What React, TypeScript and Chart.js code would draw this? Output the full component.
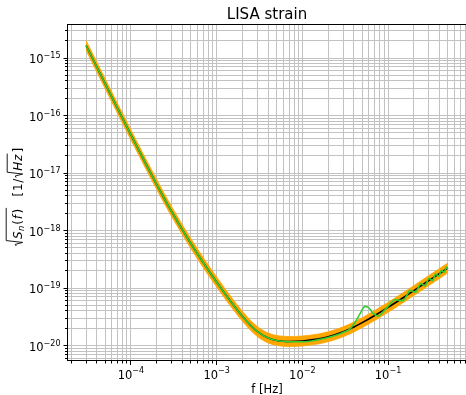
import React, { useEffect, useRef } from 'react';
import { Chart, registerables } from 'chart.js';

Chart.register(...registerables);

const W = 466;
const H = 395;

// ---- data ----
const freqs = [3e-5, 5e-5, 1e-4, 2e-4, 3e-4, 5e-4, 7e-4, 1e-3, 1.5e-3, 2e-3, 2.5e-3, 3e-3, 4e-3, 5e-3, 6e-3, 7e-3, 1e-2, 1.5e-2, 2e-2, 3e-2, 4e-2, 5e-2, 7e-2, 0.1, 0.15, 0.2, 0.3, 0.4, 0.5];
const strainBlack = [1.65e-15, 3.58e-16, 4.6e-17, 6.3e-18, 2.11e-18, 5.95e-19, 2.76e-19, 1.277e-19, 5.57e-20, 3.235e-20, 2.232e-20, 1.744e-20, 1.352e-20, 1.229e-20, 1.189e-20, 1.178e-20, 1.201e-20, 1.296e-20, 1.422e-20, 1.737e-20, 2.105e-20, 2.505e-20, 3.334e-20, 4.614e-20, 6.799e-20, 9.027e-20, 1.355e-19, 1.795e-19, 2.242e-19];
const bandUpper = [2.01e-15, 4.37e-16, 5.61e-17, 7.69e-18, 2.57e-18, 7.26e-19, 3.37e-19, 1.558e-19, 6.8e-20, 3.95e-20, 2.72e-20, 2.13e-20, 1.65e-20, 1.5e-20, 1.451e-20, 1.437e-20, 1.465e-20, 1.581e-20, 1.735e-20, 2.12e-20, 2.57e-20, 3.06e-20, 4.07e-20, 5.63e-20, 8.29e-20, 1.101e-19, 1.653e-19, 2.19e-19, 2.735e-19];
const bandLower = [1.353e-15, 2.94e-16, 3.77e-17, 5.17e-18, 1.73e-18, 4.88e-19, 2.26e-19, 1.047e-19, 4.57e-20, 2.65e-20, 1.83e-20, 1.43e-20, 1.109e-20, 1.008e-20, 9.75e-21, 9.66e-21, 9.85e-21, 1.063e-20, 1.166e-20, 1.424e-20, 1.726e-20, 2.054e-20, 2.73e-20, 3.78e-20, 5.58e-20, 7.4e-20, 1.111e-19, 1.472e-19, 1.838e-19];

const greenFreqs = [3e-5, 5e-5, 1e-4, 2e-4, 3e-4, 5e-4, 7e-4, 1e-3, 1.5e-3, 2e-3, 2.5e-3, 3e-3, 4e-3, 5e-3, 6e-3, 7e-3, 1e-2, 1.5e-2, 2e-2, 3e-2, 0.036, 0.042, 0.047, 0.054, 0.06, 0.067, 0.077, 0.088, 0.1, 0.11, 0.12, 0.135, 0.15, 0.165, 0.18, 0.195, 0.21, 0.225, 0.24, 0.255, 0.27, 0.285, 0.3, 0.315, 0.33, 0.345, 0.36, 0.375, 0.39, 0.405, 0.42, 0.435, 0.45, 0.465, 0.48, 0.5];
const greenStrain = [1.65e-15, 3.58e-16, 4.6e-17, 6.3e-18, 2.11e-18, 5.95e-19, 2.76e-19, 1.277e-19, 5.57e-20, 3.235e-20, 2.232e-20, 1.744e-20, 1.35e-20, 1.225e-20, 1.183e-20, 1.165e-20, 1.165e-20, 1.255e-20, 1.38e-20, 1.69e-20, 1.95e-20, 2.66e-20, 3.55e-20, 4.8e-20, 4.5e-20, 3.62e-20, 3.26e-20, 3.89e-20, 4.8e-20, 5.65e-20, 6.26e-20, 6.15e-20, 6.06e-20, 7.4e-20, 9.11e-20, 8.8e-20, 8.43e-20, 1.004e-19, 1.199e-19, 1.148e-19, 1.093e-19, 1.268e-19, 1.483e-19, 1.415e-19, 1.349e-19, 1.534e-19, 1.762e-19, 1.683e-19, 1.61e-19, 1.799e-19, 2.035e-19, 1.952e-19, 1.877e-19, 2.065e-19, 2.303e-19, 2.15e-19];

// ---- axes ----
const xMin = 1.845e-5;
const xMax = 0.8129;
const yMin = 5.395e-21;
const yMax = 3.75e-15;
const xMajor = [1e-4, 1e-3, 1e-2, 1e-1];
const xTickExps = ['\u22124', '\u22123', '\u22122', '\u22121'];
const yMajor = [1e-20, 1e-19, 1e-18, 1e-17, 1e-16, 1e-15];
const yTickExps = ['\u221220', '\u221219', '\u221218', '\u221217', '\u221216', '\u221215'];
const titleText = 'LISA strain';
const xLabel = 'f [Hz]';

const FONT = "'DejaVu Sans', sans-serif";

function logTicks(min: number, max: number) {
  const out: { value: number }[] = [];
  const k0 = Math.floor(Math.log10(min));
  const k1 = Math.ceil(Math.log10(max));
  for (let k = k0; k <= k1; k++) {
    for (let m = 1; m <= 9; m++) {
      const v = m * Math.pow(10, k);
      if (v >= min && v <= max) out.push({ value: v });
    }
  }
  return out;
}

function isMajor(v: number) {
  const l = Math.log10(v);
  return Math.abs(l - Math.round(l)) < 1e-6;
}

const align = (p: number) => Math.round(p - 0.5) + 0.5;

const mplPlugin = {
  id: 'mplAxes',
  afterDraw(chart: any) {
    const ctx = chart.ctx as CanvasRenderingContext2D;
    const ca = chart.chartArea;
    const xs = chart.scales.x;
    const ys = chart.scales.y;
    ctx.save();
    ctx.strokeStyle = '#000';
    ctx.lineWidth = 1;
    // spines
    ctx.beginPath();
    ctx.moveTo(ca.left - 0.5, ca.top - 0.5);
    ctx.lineTo(ca.left - 0.5, ca.bottom - 0.5);
    ctx.moveTo(ca.left - 1, ca.top - 0.5);
    ctx.lineTo(ca.right + 1, ca.top - 0.5);
    ctx.moveTo(ca.left - 1, ca.bottom - 0.5);
    ctx.lineTo(ca.right + 1, ca.bottom - 0.5);
    ctx.stroke();
    // tick marks
    ctx.beginPath();
    for (const t of xs.ticks) {
      const p = align(xs.getPixelForValue(t.value));
      const len = isMajor(t.value) ? 4 : 2.5;
      ctx.moveTo(p, ca.bottom - 0.5);
      ctx.lineTo(p, ca.bottom + len);
    }
    for (const t of ys.ticks) {
      const p = align(ys.getPixelForValue(t.value));
      const len = isMajor(t.value) ? 4 : 2.5;
      ctx.moveTo(ca.left - 0.5, p);
      ctx.lineTo(ca.left - 0.5 - len, p);
    }
    ctx.stroke();

    ctx.fillStyle = '#000';
    ctx.textAlign = 'left';
    ctx.textBaseline = 'alphabetic';
    const mainF = `11.5px ${FONT}`;
    const supF = `8px ${FONT}`;
    // x tick labels
    xMajor.forEach((v, i) => {
      const px = xs.getPixelForValue(v);
      ctx.font = mainF;
      const w1 = ctx.measureText('10').width;
      ctx.font = supF;
      const w2 = ctx.measureText(xTickExps[i]).width;
      const x0 = px - (w1 + w2) / 2;
      ctx.font = mainF;
      ctx.fillText('10', x0, 378.5);
      ctx.font = supF;
      ctx.fillText(xTickExps[i], x0 + w1, 373);
    });
    // y tick labels
    yMajor.forEach((v, i) => {
      const py = ys.getPixelForValue(v);
      ctx.font = supF;
      const w2 = ctx.measureText(yTickExps[i]).width;
      ctx.font = mainF;
      const w1 = ctx.measureText('10').width;
      const xEnd = 60.5;
      ctx.fillText('10', xEnd - w2 - w1, py + 5);
      ctx.font = supF;
      ctx.fillText(yTickExps[i], xEnd - w2, py);
    });
    // x label
    ctx.font = mainF;
    ctx.textAlign = 'center';
    ctx.fillText(xLabel, (ca.left + ca.right) / 2, 393);

    // y label: sqrt(S_n(f))   [1/sqrt(Hz)]
    ctx.translate(21.7, 246);
    ctx.rotate(-Math.PI / 2);
    ctx.textAlign = 'left';
    ctx.lineWidth = 0.9;
    const lblF = `12px ${FONT}`;
    const it = `italic 12px ${FONT}`;
    const itSub = `italic 8.4px ${FONT}`;
    const put = (s: string, f: string, u: number, v = 0) => {
      ctx.font = f;
      ctx.fillText(s, u, v);
      return u + ctx.measureText(s).width;
    };
    let u = 7;
    u = put('S', it, u) + 0.4;
    u = put('n', itSub, u, 2.7) + 1.0;
    u = put('(', lblF, u) + 0.8;
    u = put('f', it, u) + 1.4;
    u = put(')', lblF, u);
    const end1 = u + 1;
    ctx.beginPath();
    ctx.moveTo(0, -5.5);
    ctx.lineTo(1.6, -6.5);
    ctx.lineTo(3.6, 1);
    ctx.lineTo(5.4, -15.5);
    ctx.lineTo(end1, -15.5);
    ctx.stroke();

    u = end1 + 11.5;
    u = put('[', lblF, u) + 0.6;
    u = put('1', lblF, u) + 0.8;
    u = put('/', lblF, u) + 1.0;
    const r0 = u;
    ctx.beginPath();
    ctx.moveTo(r0, -5.5);
    ctx.lineTo(r0 + 1.6, -6.5);
    ctx.lineTo(r0 + 3.6, 1);
    ctx.lineTo(r0 + 5.4, -14.5);
    u = r0 + 7;
    u = put('H', it, u) + 0.5;
    u = put('z', it, u);
    ctx.lineTo(u + 1.2, -14.5);
    ctx.stroke();
    put(']', lblF, u + 2.2);
    ctx.restore();
  },
};

const pts = (xsArr: number[], ysArr: number[]) => xsArr.map((x, i) => ({ x, y: ysArr[i] }));

export default function App() {
  const ref = useRef<HTMLCanvasElement>(null);
  useEffect(() => {
    const canvas = ref.current!;
    const gridColor = '#c2c2c2';
    const chart = new Chart(canvas, {
      type: 'line',
      data: {
        datasets: [
          {
            label: 'numerical',
            data: pts(greenFreqs, greenStrain),
            borderColor: '#32cd32',
            borderWidth: 1.6,
            pointRadius: 0,
            fill: false,
            cubicInterpolationMode: 'monotone',
          },
          {
            label: 'analytic',
            data: pts(freqs, strainBlack),
            borderColor: '#000000',
            borderWidth: 1.6,
            pointRadius: 0,
            fill: false,
            cubicInterpolationMode: 'monotone',
          },
          {
            label: 'band upper',
            data: pts(freqs, bandUpper),
            borderColor: '#ffa500',
            backgroundColor: '#ffa500',
            borderWidth: 0.8,
            pointRadius: 0,
            fill: '+1',
            cubicInterpolationMode: 'monotone',
          },
          {
            label: 'band lower',
            data: pts(freqs, bandLower),
            borderColor: '#ffa500',
            backgroundColor: '#ffa500',
            borderWidth: 0.8,
            pointRadius: 0,
            fill: false,
            cubicInterpolationMode: 'monotone',
          },
        ],
      },
      options: {
        responsive: false,
        animation: false,
        devicePixelRatio: 1,
        layout: { padding: { left: 68, right: 0, top: 0, bottom: 34 } },
        plugins: {
          legend: { display: false },
          tooltip: { enabled: false },
          title: {
            display: true,
            text: titleText,
            color: '#000',
            font: { family: FONT, size: 15, weight: 'normal' },
            padding: { top: 6, bottom: 1 },
          },
        },
        scales: {
          x: {
            type: 'logarithmic',
            min: xMin,
            max: xMax,
            bounds: 'data',
            afterBuildTicks: (axis: any) => {
              axis.ticks = logTicks(axis.min, axis.max);
            },
            afterFit: (axis: any) => {
              axis.height = 0;
            },
            ticks: { display: false, autoSkip: false },
            grid: { color: gridColor, lineWidth: 1, drawTicks: false },
            border: { display: false },
          },
          y: {
            type: 'logarithmic',
            min: yMin,
            max: yMax,
            bounds: 'data',
            afterBuildTicks: (axis: any) => {
              axis.ticks = logTicks(axis.min, axis.max);
            },
            afterFit: (axis: any) => {
              axis.width = 0;
            },
            ticks: { display: false, autoSkip: false },
            grid: { color: gridColor, lineWidth: 1, drawTicks: false },
            border: { display: false },
          },
        },
      } as any,
      plugins: [mplPlugin],
    });
    return () => chart.destroy();
  }, []);
  return (
    <div style={{ position: 'fixed', left: 0, top: 0, width: W, height: H, background: '#fff' }}>
      <canvas ref={ref} width={W} height={H} style={{ display: 'block', width: W, height: H }} />
    </div>
  );
}
